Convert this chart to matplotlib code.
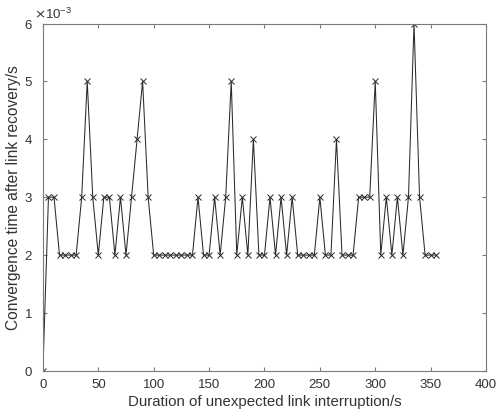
import matplotlib.pyplot as plt
from matplotlib.ticker import ScalarFormatter
import numpy as np

# duration of interruption (s) and convergence time (x1e-3 s)
duracion = np.arange(0, 360, 5)
convergencia = [0, 3, 3, 2, 2, 2, 2, 3, 5, 3,
                2, 3, 3, 2, 3, 2, 3, 4, 5, 3,
                2, 2, 2, 2, 2, 2, 2, 2, 3, 2,
                2, 3, 2, 3, 5, 2, 3, 2, 4, 2,
                2, 3, 2, 3, 2, 3, 2, 2, 2, 2,
                3, 2, 2, 4, 2, 2, 2, 3, 3, 3,
                5, 2, 3, 2, 3, 2, 3, 6, 3, 2,
                2, 2]
convergencia = np.array(convergencia) * 1e-3

plt.rcParams['font.family'] = ['Liberation Sans', 'DejaVu Sans']

fig = plt.figure(figsize=(4.99, 4.2), dpi=100)
ax = fig.add_axes([0.086, 0.117, 0.888, 0.827])

ax.plot(duracion, convergencia, color='#2a2a2a', linewidth=0.75,
        marker='x', markersize=5, markeredgewidth=0.7)

ax.set_xlim(0, 400)
ax.set_ylim(0, 6e-3)
ax.set_xticks(np.arange(0, 401, 50))
ax.set_yticks(np.arange(0, 6.1e-3, 1e-3))

fmt = ScalarFormatter(useMathText=True)
fmt.set_powerlimits((-2, 2))
ax.yaxis.set_major_formatter(fmt)

for s in ax.spines.values():
    s.set_color('#7a7a7a')
    s.set_linewidth(0.8)
ax.tick_params(direction='in', top=True, right=True, length=3,
               color='#7a7a7a', labelcolor='#333333', labelsize=9.5)
ax.tick_params(axis='x', pad=6)
ax.tick_params(axis='y', pad=7)
off = ax.yaxis.get_offset_text()
off.set_fontsize(9.5)
off.set_color('#333333')
off.set_x(-0.02)

ax.set_xlabel('Duration of unexpected link interruption/s', fontsize=10.8,
              color='#333333', labelpad=3)
ax.set_ylabel('Convergence time after link recovery/s', fontsize=11.2,
              color='#333333', labelpad=2)

fig.savefig('out.png', dpi=100, facecolor='white')
